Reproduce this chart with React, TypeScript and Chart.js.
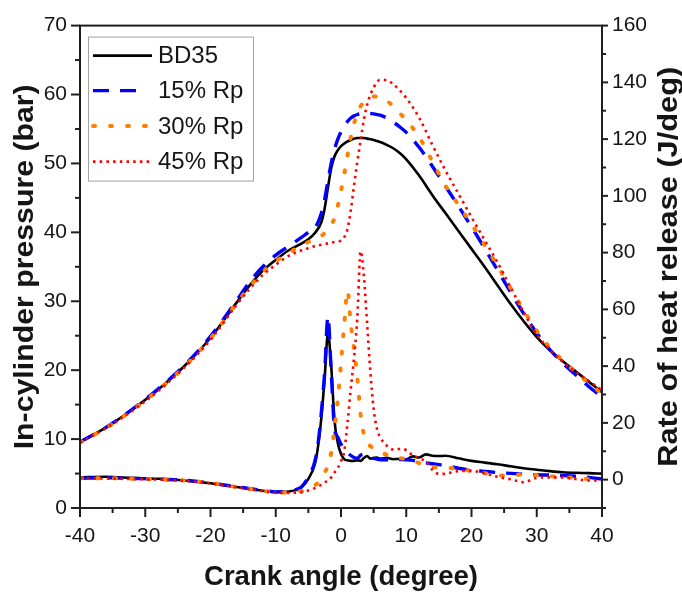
import React, { useEffect, useRef } from 'react';
import { Chart, registerables } from 'chart.js';

Chart.register(...registerables);

// ---------- Data ----------
const seriesNames = ['BD35', '15% Rp', '30% Rp', '45% Rp'];

// In-cylinder pressure (bar), left axis
const pressureAngle = [
  -40, -36, -32, -28, -24, -20, -16, -14, -12, -10, -8, -6, -5, -4, -3, -2.5, -2, -1.5, -1, -0.5,
  0, 0.5, 1, 1.5, 2, 2.5, 3, 3.5, 4, 5, 6, 7, 8, 9, 10, 12, 14, 16, 18, 20,
  22, 24, 26, 28, 30, 32, 34, 36, 38, 40,
];
const pressureBD35 = [
  9.6, 11.7, 14.3, 17.2, 20.6, 24.7, 29.8, 32.3, 34.4, 36.0, 37.4, 38.4, 39.0, 39.9, 41.5, 43.5, 46.5, 49.3, 51.0, 51.9,
  52.5, 52.9, 53.2, 53.4, 53.6, 53.7, 53.7, 53.7, 53.6, 53.4, 53.1, 52.7, 52.2, 51.5, 50.6, 48.2, 45.4, 42.8, 40.2, 37.6,
  35.0, 32.3, 29.6, 27.1, 24.8, 22.9, 21.3, 19.8, 18.3, 16.8,
];
const pressureRp15 = [
  9.6, 11.7, 14.3, 17.3, 20.7, 24.9, 30.1, 32.8, 35.0, 36.7, 38.0, 39.3, 40.0, 40.6, 42.8, 44.8, 47.5, 50.0, 52.0, 53.5,
  54.6, 55.5, 56.1, 56.6, 56.9, 57.1, 57.2, 57.3, 57.3, 57.2, 57.0, 56.6, 56.0, 55.3, 54.5, 52.3, 49.6, 46.7, 43.8, 40.8,
  37.7, 34.5, 31.3, 28.2, 25.4, 23.0, 21.0, 19.3, 17.6, 16.1,
];
const pressureRp30 = [
  9.5, 11.6, 14.2, 17.1, 20.5, 24.6, 29.7, 32.1, 34.2, 35.8, 37.0, 38.2, 38.6, 39.0, 39.5, 39.9, 40.5, 41.2, 42.0, 43.8,
  46.0, 48.5, 51.2, 53.8, 55.8, 57.3, 58.3, 58.9, 59.3, 59.7, 59.6, 59.1, 58.3, 57.3, 56.3, 53.8, 50.3, 46.8, 44.0, 41.2,
  38.2, 35.1, 31.9, 28.7, 25.7, 23.3, 21.4, 19.7, 18.1, 16.6,
];
const pressureRp45 = [
  9.5, 11.6, 14.1, 17.0, 20.4, 24.4, 29.5, 31.8, 33.8, 35.3, 36.6, 37.4, 37.7, 38.0, 38.2, 38.3, 38.4, 38.5, 38.6, 38.7,
  38.8, 39.3, 40.5, 43.2, 46.8, 50.2, 53.3, 56.3, 58.5, 61.0, 62.1, 62.1, 61.5, 60.6, 59.5, 56.6, 52.7, 49.0, 45.6, 42.2,
  38.9, 35.6, 32.0, 28.4, 25.2, 23.0, 21.2, 19.7, 18.4, 17.1,
];

// Rate of heat release (J/deg), right axis
const hrrAngle = [
  -40, -36, -32, -28, -24, -20, -16, -12, -10, -8, -7, -6, -5, -4, -3.5, -3, -2.5, -2, -1.5, -1,
  -0.5, 0, 0.5, 1, 1.5, 2, 2.5, 3, 3.5, 4, 4.5, 5, 5.5, 6, 7, 8, 9, 10, 11, 12,
  13, 14, 15, 16, 18, 20, 22, 24, 26, 28, 30, 32, 34, 36, 38, 40,
];
const hrrBD35 = [
  0.8, 1.0, 0.6, 0.3, -0.3, -1.3, -2.6, -3.9, -4.4, -4.2, -3.7, -2.6, 0.3, 5.5, 12, 22, 36, 51.6, 40, 21,
  13, 9, 7.2, 6.8, 6.6, 6.6, 6.8, 6.6, 7.6, 8.3, 7.4, 7.6, 7.8, 7.4, 7.7, 7.2, 7.3, 7.2, 8.2, 7.8,
  8.9, 8.4, 8.3, 8.4, 7.5, 6.6, 6.0, 5.4, 4.7, 4.0, 3.5, 3.0, 2.6, 2.4, 2.3, 2.1,
];
const hrrRp15 = [
  0.5, 0.6, 0.4, 0.2, -0.2, -1.2, -2.5, -3.8, -4.3, -4.1, -3.6, -2.4, 1.0, 6.5, 13, 24, 38, 57.5, 38, 18,
  15, 12.5, 10.8, 9.5, 8.5, 7.8, 7.5, 8.6, 9.0, 8.6, 7.8, 7.5, 7.2, 7.0, 7.0, 7.0, 7.1, 7.0, 6.8, 6.3,
  5.9, 5.6, 5.3, 5.0, 4.0, 3.3, 2.9, 2.5, 2.2, 1.9, 1.7, 1.6, 1.4, 1.2, 0.8, 0.2,
];
const hrrRp30 = [
  0.5, 0.5, 0.3, 0.1, -0.3, -1.2, -2.6, -3.9, -4.5, -4.5, -4.3, -4.0, -3.2, -2.0, -1.0, 0.8, 2.5, 5, 9.5, 18,
  28, 41, 55, 66.6, 55, 46, 36, 23, 16, 13, 11.8, 11.0, 10.3, 9.6, 8.8, 8.0, 7.6, 7.2, 6.6, 5.8,
  4.9, 4.5, 4.3, 4.2, 3.8, 3.0, 2.3, 1.4, 1.6, 1.7, 1.6, 1.2, 0.9, 0.6, 0.2, -0.3,
];
const hrrRp45 = [
  0.5, 0.4, 0.2, 0.0, -0.4, -1.3, -2.7, -4.0, -4.6, -4.7, -4.6, -4.4, -3.8, -3.0, -2.4, -1.8, -1.0, -0.3, 0.8, 2.5,
  4.0, 6.5, 10, 20, 32, 43, 57, 80.5, 72, 55, 38, 25, 18, 15, 12, 10.6, 10.8, 10.4, 8.5, 7.5,
  6.4, 3.5, 2.0, 2.1, 3.0, 3.1, 2.2, 1.0, 0.1, -0.9, 0.6, 0.8, 0.8, 0.2, -0.3, -0.3,
];

const pressureSeries = [pressureBD35, pressureRp15, pressureRp30, pressureRp45];
const hrrSeries = [hrrBD35, hrrRp15, hrrRp30, hrrRp45];

// ---------- Styles ----------
const FONT = '"Liberation Sans", Arial, Helvetica, sans-serif';
const AXIS_COLOR = '#1f1f1f';
const TEXT_COLOR = '#151515';
const lineColors = ['#000000', '#0000FF', '#FF8000', '#FF0000'];
const lineDashes: number[][] = [[], [16, 11], [2, 15], [2.5, 4.2]];
const lineWidths = [2.6, 3.4, 4, 2.6];
const lineCaps: CanvasLineCap[] = ['butt', 'butt', 'round', 'butt'];
const legendSampleLength = [59, 43, 57, 57];
const drawOrder = [4, 3, 2, 1];

function drawText(
  ctx: CanvasRenderingContext2D,
  text: string,
  x: number,
  y: number,
  angle: number,
  targetLength: number,
  font: string
) {
  ctx.save();
  ctx.font = font;
  ctx.translate(x, y);
  ctx.rotate(angle);
  const w = ctx.measureText(text).width;
  ctx.scale(targetLength / w, 1);
  ctx.textAlign = 'center';
  ctx.textBaseline = 'alphabetic';
  ctx.fillStyle = TEXT_COLOR;
  ctx.fillText(text, 0, 0);
  ctx.restore();
}

const decorPlugin = {
  id: 'decor',
  afterDraw(chart: any) {
    const { ctx, chartArea: a, scales } = chart;
    ctx.save();
    ctx.setLineDash([]);
    ctx.strokeStyle = AXIS_COLOR;
    ctx.lineWidth = 2;
    ctx.lineCap = 'butt';
    const line = (x1: number, y1: number, x2: number, y2: number) => {
      ctx.beginPath();
      ctx.moveTo(x1, y1);
      ctx.lineTo(x2, y2);
      ctx.stroke();
    };
    const xs = scales.x;
    xs.ticks.forEach((t: any) => {
      const p = xs.getPixelForValue(t.value);
      const major = t.value % 10 === 0;
      line(p, a.bottom, p, a.bottom + (major ? 9 : 5));
    });
    const yl = scales.y;
    yl.ticks.forEach((t: any) => {
      const p = yl.getPixelForValue(t.value);
      const major = t.value % 10 === 0;
      line(a.left, p, a.left - (major ? 9 : 5), p);
    });
    const yr = scales.y1;
    yr.ticks.forEach((t: any) => {
      const p = yr.getPixelForValue(t.value);
      const major = t.value % 20 === 0;
      line(a.right, p, a.right + (major ? 6 : 4), p);
    });
    ctx.strokeRect(a.left, a.top, a.right - a.left, a.bottom - a.top);

    // Axis titles
    const titleFont = `bold 28px ${FONT}`;
    drawText(ctx, 'Crank angle (degree)', (a.left + a.right) / 2, 585, 0, 274, titleFont);
    drawText(ctx, 'In-cylinder pressure (bar)', 33, (a.top + a.bottom) / 2, -Math.PI / 2, 365, titleFont);
    drawText(ctx, 'Rate of heat release (J/deg)', 677, (a.top + a.bottom) / 2, -Math.PI / 2, 400, titleFont);

    // Legend
    const lx = a.left + 8;
    const ly = a.top + 11;
    ctx.fillStyle = '#ffffff';
    ctx.fillRect(lx, ly, 165, 144);
    ctx.strokeStyle = '#a3a3a3';
    ctx.lineWidth = 1;
    ctx.strokeRect(lx + 0.5, ly + 0.5, 165, 144);
    const rowY = [19, 54, 89.5, 125];
    ctx.font = `24px ${FONT}`;
    ctx.textBaseline = 'middle';
    ctx.textAlign = 'left';
    seriesNames.forEach((name, i) => {
      const y = ly + rowY[i];
      ctx.save();
      ctx.strokeStyle = lineColors[i];
      ctx.lineWidth = lineWidths[i];
      ctx.lineCap = lineCaps[i];
      ctx.setLineDash(lineDashes[i]);
      ctx.beginPath();
      ctx.moveTo(lx + 5, y);
      ctx.lineTo(lx + 5 + legendSampleLength[i], y);
      ctx.stroke();
      ctx.restore();
      ctx.fillStyle = TEXT_COLOR;
      ctx.fillText(name, lx + 70, y + 1);
    });
    ctx.restore();
  },
};

export default function App() {
  const canvasRef = useRef<HTMLCanvasElement | null>(null);

  useEffect(() => {
    document.body.style.margin = '0';
    const canvas = canvasRef.current;
    if (!canvas) return;

    const datasets: any[] = [];
    seriesNames.forEach((name, i) => {
      const common = {
        borderColor: lineColors[i],
        backgroundColor: lineColors[i],
        borderWidth: lineWidths[i],
        borderDash: lineDashes[i],
        borderCapStyle: lineCaps[i],
        pointRadius: 0,
        fill: false,
        cubicInterpolationMode: 'monotone',
        order: drawOrder[i],
      };
      datasets.push({
        ...common,
        label: name,
        yAxisID: 'y',
        data: pressureAngle.map((x, k) => ({ x, y: pressureSeries[i][k] })),
      });
      datasets.push({
        ...common,
        label: name + ' HRR',
        yAxisID: 'y1',
        data: hrrAngle.map((x, k) => ({ x, y: hrrSeries[i][k] })),
      });
    });

    const tickFont = { family: FONT, size: 21 };
    const chart = new Chart(canvas, {
      type: 'line',
      data: { datasets },
      options: {
        responsive: false,
        animation: false,
        devicePixelRatio: 1,
        layout: { padding: { top: 17, left: 0, right: 0, bottom: 0 } },
        plugins: { legend: { display: false }, tooltip: { enabled: false } },
        scales: {
          x: {
            type: 'linear',
            position: 'bottom',
            min: -40,
            max: 40,
            grid: { display: false, drawTicks: false },
            border: { display: false },
            ticks: {
              stepSize: 5,
              autoSkip: false,
              maxRotation: 0,
              padding: 16,
              color: TEXT_COLOR,
              font: tickFont,
              callback: (v: any) => (Number(v) % 10 === 0 ? String(Number(v)) : ''),
            },
            afterFit: (s: any) => {
              s.height = 89;
            },
          },
          y: {
            type: 'linear',
            position: 'left',
            min: 0,
            max: 70,
            grid: { display: false, drawTicks: false },
            border: { display: false },
            ticks: {
              stepSize: 5,
              autoSkip: false,
              padding: 13,
              color: TEXT_COLOR,
              font: tickFont,
              callback: (v: any) => (Number(v) % 10 === 0 ? String(Number(v)) : ''),
            },
            afterFit: (s: any) => {
              s.width = 80;
            },
          },
          y1: {
            type: 'linear',
            position: 'right',
            min: -10,
            max: 160,
            grid: { display: false, drawTicks: false },
            border: { display: false },
            ticks: {
              stepSize: 10,
              autoSkip: false,
              padding: 10,
              color: TEXT_COLOR,
              font: tickFont,
              callback: (v: any) => (Number(v) % 20 === 0 ? String(Number(v)) : ''),
            },
            afterFit: (s: any) => {
              s.width = 80;
            },
          },
        },
      },
      plugins: [decorPlugin],
    } as any);

    return () => {
      chart.destroy();
    };
  }, []);

  return (
    <canvas
      ref={canvasRef}
      width={682}
      height={597}
      style={{ display: 'block', width: 682, height: 597 }}
    />
  );
}
